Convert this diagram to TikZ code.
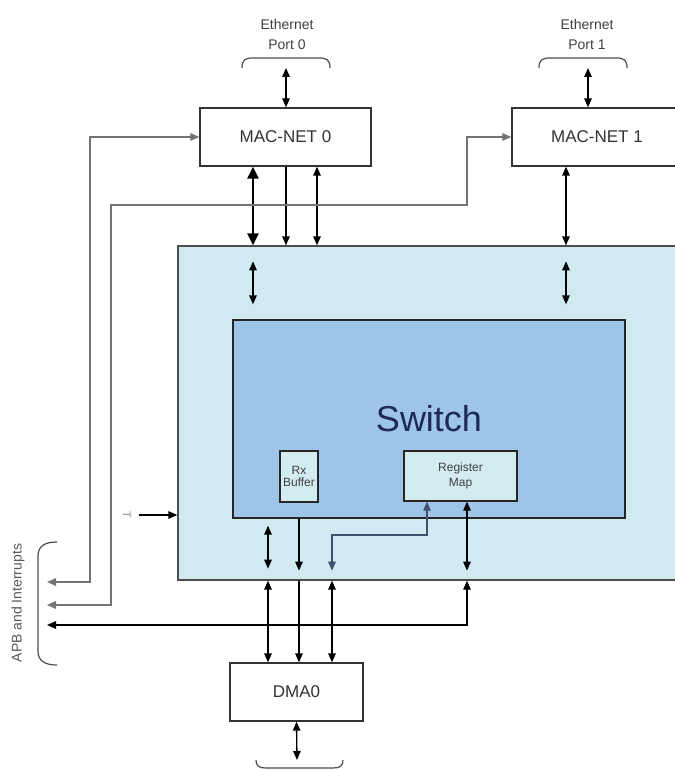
\documentclass[tikz,border=0pt]{standalone}
\usepackage{fontspec}
\setmainfont{Liberation Sans}
\usetikzlibrary{arrows.meta}

\definecolor{swouter}{RGB}{207,234,240}
\definecolor{swinner}{RGB}{158,197,232}
\definecolor{subfill}{RGB}{211,236,241}
\definecolor{rail}{RGB}{115,115,115}
\definecolor{regline}{RGB}{62,80,110}
\definecolor{swtext}{RGB}{30,42,85}

\begin{document}
\begin{tikzpicture}
    [x=1pt,y=-1pt,>={Triangle[length=9pt,width=7.5pt]},line width=1.3pt,
     block/.style={rectangle,draw=black!80,fill=white,text=black!80,font=\fontsize{17}{20}\selectfont},
     subblock/.style={rectangle,draw=black!85,fill=subfill,text=black!75,align=center,inner sep=0pt},
     portlabel/.style={align=center,text=black!75,font=\fontsize{14}{20}\selectfont},
     bus/.style={line width=2.4pt,>={Triangle[length=12pt,width=11pt]}},
     railline/.style={draw=rail,line width=1.5pt}]

    \fill[white] (0,0) rectangle (674,770);
    \useasboundingbox (0,0) rectangle (674,770);

    % columns of the connectors
    \coordinate (colA) at (253,0);
    \coordinate (colB) at (286,0);
    \coordinate (colC) at (317,0);
    \coordinate (colD) at (566,0);
    \coordinate (colE) at (268,0);
    \coordinate (colF) at (299,0);
    \coordinate (colG) at (332,0);
    \coordinate (colH) at (467,0);
    \coordinate (colI) at (427,0);

    % switch
    \node (outer) [rectangle,draw=black!70,fill=swouter,minimum width=512pt,minimum height=334pt] at (434,413) {};
    \node (inner) [rectangle,draw=black!85,fill=swinner,text=swtext,font=\fontsize{36}{40}\selectfont,
                   minimum width=392pt,minimum height=198pt] at (429,419) {Switch};
    \node (rxbuf) [subblock,minimum width=38pt,minimum height=51pt,font=\fontsize{12}{12}\selectfont] at (299,476.5) {Rx\\Buffer};
    \node (regmap) [subblock,minimum width=113pt,minimum height=50pt,font=\fontsize{12}{15}\selectfont] at (460.5,476) {Register\\Map};

    % blocks
    \node (mac0) [block,minimum width=171pt,minimum height=58pt] at (285.5,137) {MAC-NET 0};
    \node (mac1) [block,minimum width=170pt,minimum height=58pt] at (597,137) {MAC-NET 1};
    \node (dma) [block,minimum width=133pt,minimum height=58pt] at (296.5,692) {DMA0};

    % labels
    \node (eth0) [portlabel] at (287,34) {Ethernet\\Port 0};
    \node (eth1) [portlabel] at (587,34) {Ethernet\\Port 1};
    \node (apb) [rotate=90,text=black!65,font=\fontsize{14}{16}\selectfont] at (18,603) {APB and Interrupts};
    \node (irqmark) [rotate=-90,text=black!45,font=\fontsize{11}{11}\selectfont] at (127,515) {T};

    % braces
    \draw[line width=1.2pt,black!70] (242,68) .. controls (242,60) and (245,58) .. (253,58) -- (319,58)
        .. controls (327,58) and (330,60) .. (330,68);
    \draw[line width=1.2pt,black!70] (539,68) .. controls (539,60) and (542,58) .. (550,58) -- (616,58)
        .. controls (624,58) and (627,60) .. (627,68);
    \draw[line width=1.2pt,black!70] (57,542) .. controls (45,542) and (38,546) .. (38,556) -- (38,651)
        .. controls (38,661) and (45,665) .. (57,665);
    \draw[line width=1.2pt,black!70] (256,760) .. controls (256,766) and (259,768) .. (266,768) -- (333,768)
        .. controls (340,768) and (343,766) .. (343,760);

    \coordinate (port0) at (286,68);
    \coordinate (port1) at (588,68);
    \coordinate (bus0) at (297,760);
    \coordinate (apbA) at (47,582);
    \coordinate (apbB) at (47,605);
    \coordinate (apbC) at (47,625);
    \coordinate (railA) at (90,0);
    \coordinate (busY) at (111,205);
    \coordinate (bend) at (332,535);
    \coordinate (irq) at (139,515);

    % ports and MACs
    \path (port0) edge[<->] (port0 |- mac0.north);
    \path (port1) edge[<->] (port1 |- mac1.north);
    \path (mac0.south -| colA) edge[<->,bus] (outer.north -| colA);
    \path (mac0.south -| colB) edge[->] (outer.north -| colB);
    \path (mac0.south -| colC) edge[<->] (outer.north -| colC);
    \path (mac1.south -| colD) edge[<->] (outer.north -| colD);

    % inside the switch
    \draw[<->,shorten <=16pt,shorten >=15pt] (outer.north -| colA) -- (inner.north -| colA);
    \draw[<->,shorten <=16pt,shorten >=15pt] (outer.north -| colD) -- (inner.north -| colD);
    \draw[<->,shorten <=7pt,shorten >=12pt] (inner.south -| colE) -- (outer.south -| colE);
    \draw[->,shorten >=10pt] (inner.south -| colF) -- (outer.south -| colF);
    \draw[<->,regline,shorten >=10pt] (regmap.south -| colI) |- (bend) -- (outer.south -| colG);
    \draw[<->,shorten >=10pt] (regmap.south -| colH) -- (outer.south -| colH);

    % DMA
    \path (outer.south -| colE) edge[<->] (dma.north -| colE);
    \path (outer.south -| colF) edge[->] (dma.north -| colF);
    \path (outer.south -| colG) edge[<->] (dma.north -| colG);
    \path (dma.south) edge[<->] (bus0);

    % APB and interrupts
    \draw[<->,railline] (apbA) -| (railA |- mac0.west) -- (mac0.west);
    \draw[<->,railline] (apbB) -| (busY) -| (mac1.west -| colH) -- (mac1.west);
    \draw[<->] (apbC) -| (outer.south -| colH);
    \draw[->] (irq) -- (irq -| outer.west);
\end{tikzpicture}
\end{document}
